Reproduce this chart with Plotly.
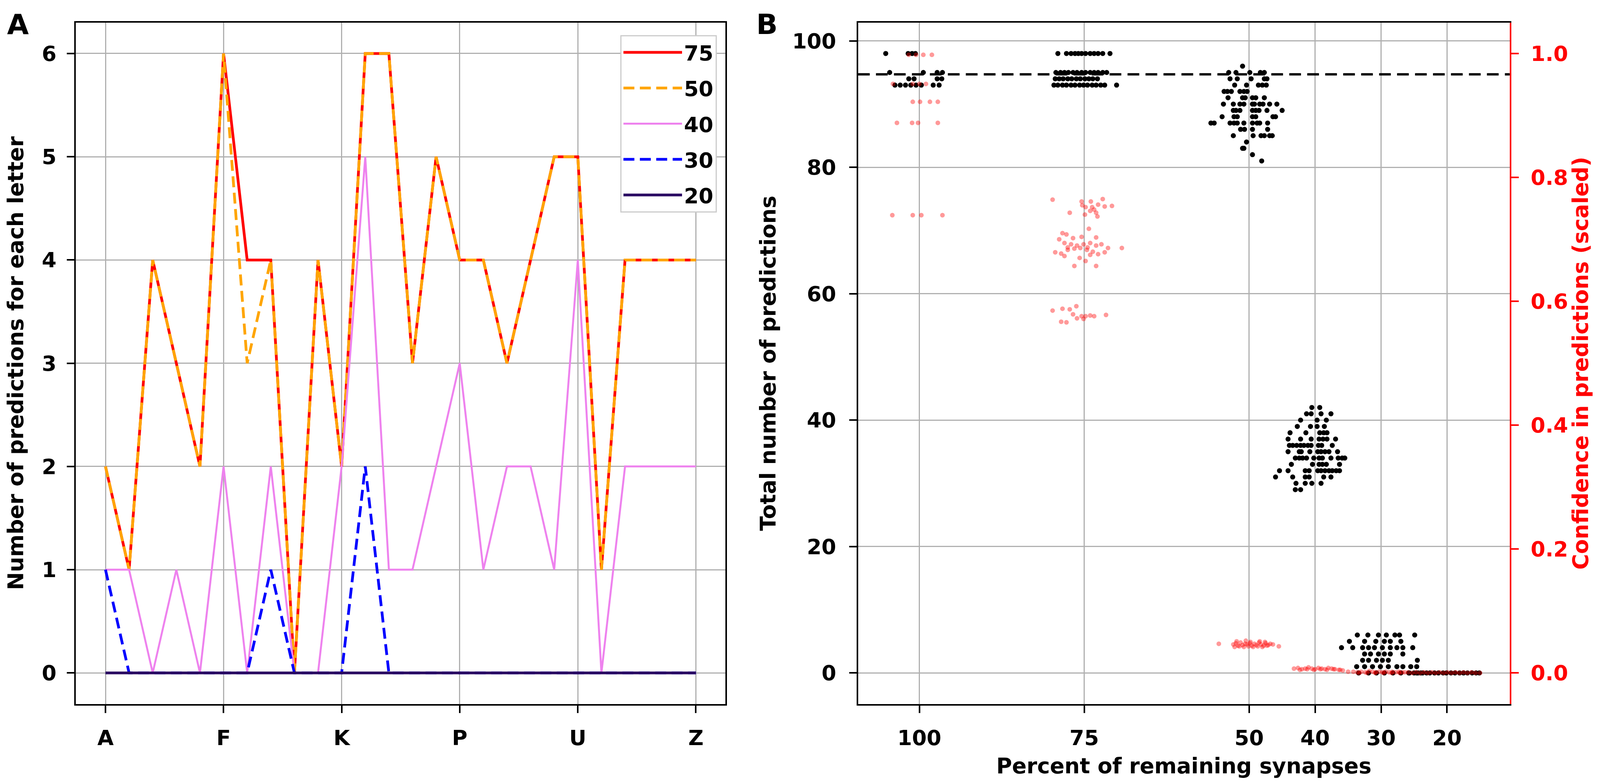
import plotly.graph_objects as go

# ---- panel A: predictions per letter, one line per % of remaining synapses
letters = list("ABCDEFGHIJKLMNOPQRSTUVWXYZ")
pred_75 = [2, 1, 4, 3, 2, 6, 4, 4, 0, 4, 2, 6, 6, 3, 5, 4, 4, 3, 4, 5, 5, 1, 4, 4, 4, 4]
pred_50 = [2, 1, 4, 3, 2, 6, 3, 4, 0, 4, 2, 6, 6, 3, 5, 4, 4, 3, 4, 5, 5, 1, 4, 4, 4, 4]
pred_40 = [1, 1, 0, 1, 0, 2, 0, 2, 0, 0, 2, 5, 1, 1, 2, 3, 1, 2, 2, 1, 4, 0, 2, 2, 2, 2]
pred_30 = [1, 0, 0, 0, 0, 0, 0, 1, 0, 0, 0, 2, 0, 0, 0, 0, 0, 0, 0, 0, 0, 0, 0, 0, 0, 0]
pred_20 = [0, 0, 0, 0, 0, 0, 0, 0, 0, 0, 0, 0, 0, 0, 0, 0, 0, 0, 0, 0, 0, 0, 0, 0, 0, 0]
letter_ticks = ["A", "F", "K", "P", "U", "Z"]

# ---- panel B: total predictions (left axis) and confidence (right axis), jittered
percent_ticks = [100, 75, 50, 40, 30, 20]
mean_total = 94.7

tot100_x = [105.1, 101.7, 101.1, 100.6, 104.5, 99.4, 97.3, 96.5, 101.6, 100.8,
            97.3, 96.6, 103.7, 102.9, 102.1, 101.3, 100.5, 99.7, 97.9, 97.0]
tot100_y = [98, 98, 98, 98, 95, 95, 95, 95, 94, 94,
            94, 94, 93, 93, 93, 93, 93, 93, 93, 93]

tot75_x = [79.0, 77.7, 77.0, 76.4, 75.9, 75.4, 74.8, 74.1, 73.5, 72.9, 72.2, 71.1,
           79.3, 78.6, 78.0, 77.4, 76.7, 76.1, 75.4, 74.8, 74.1, 73.5, 72.9, 72.2, 71.6,
           79.4, 78.8, 78.2, 77.5, 76.9, 76.2, 75.6, 74.9, 74.3, 73.7, 73.0,
           79.6, 79.0, 78.3, 77.7, 77.0, 76.4, 75.7, 75.1, 74.5, 73.8, 73.2, 72.5, 71.9, 70.1]
tot75_y = [98, 98, 98, 98, 98, 98, 98, 98, 98, 98, 98, 98,
           95, 95, 95, 95, 95, 95, 95, 95, 95, 95, 95, 95, 95,
           94, 94, 94, 94, 94, 94, 94, 94, 94, 94, 94,
           93, 93, 93, 93, 93, 93, 93, 93, 93, 93, 93, 93, 93, 93]

tot50_x = [51.0,
           53.1, 52.0, 49.9, 48.3, 47.7,
           52.9, 51.8, 49.7, 47.7, 47.3,
           52.2, 50.4, 48.6, 48.0, 47.4,
           53.8, 53.3, 52.7, 51.4, 50.8, 50.3,
           53.2, 51.0, 50.6, 49.5, 49.0, 47.7,
           53.9, 52.4, 51.4, 50.8, 49.5, 49.2, 48.4, 47.9, 46.9, 45.8,
           52.4, 52.0, 51.4, 49.5, 49.0, 48.5, 47.3, 45.0,
           54.1, 52.3, 51.8, 49.5, 49.0, 46.4, 46.0,
           55.8, 55.3, 52.9, 52.3, 51.8, 50.8, 49.5, 48.8, 48.4, 47.2,
           51.3, 50.7, 49.5, 47.2,
           52.4, 49.4, 48.2, 47.7, 46.9, 46.5,
           50.4, 51.0, 50.8, 49.5, 48.1]
tot50_y = [96,
           95, 95, 95, 95, 95,
           94, 94, 94, 94, 94,
           93, 93, 93, 93, 93,
           92, 92, 92, 92, 92, 92,
           91, 91, 91, 91, 91, 91,
           90, 90, 90, 90, 90, 90, 90, 90, 90, 90,
           89, 89, 89, 89, 89, 89, 89, 89,
           88, 88, 88, 88, 88, 88, 88,
           87, 87, 87, 87, 87, 87, 87, 87, 87, 87,
           86, 86, 86, 86,
           85, 85, 85, 85, 85, 85,
           84, 83, 83, 82, 81]

tot40_x = [40.5, 39.3,
           41.3, 40.6, 39.1, 37.6,
           42.2, 39.7, 38.3,
           42.7, 40.7, 39.7, 38.6,
           43.8, 41.4, 39.3, 38.7, 38.2,
           44.1, 42.2, 40.6, 39.4, 38.8, 38.2, 36.9,
           43.9, 43.4, 42.8, 42.2, 41.7, 41.1, 40.6, 39.5, 39.0, 37.4,
           44.1, 42.4, 42.1, 40.8, 39.6, 39.1, 38.5, 37.9, 36.6,
           43.0, 42.4, 41.9, 41.3, 40.2, 39.4, 38.9, 37.6, 36.5, 35.9, 35.5,
           43.6, 40.4, 39.4, 38.9, 38.3, 36.3,
           45.4, 44.1, 41.5, 40.9, 39.6, 39.1, 38.5, 37.9, 37.4, 36.8, 36.3,
           46.0, 43.4, 41.5, 40.9, 38.7, 37.6,
           42.9, 41.5, 40.5, 39.1,
           43.0, 42.2]
tot40_y = [42, 42,
           41, 41, 41, 41,
           40, 40, 40,
           39, 39, 39, 39,
           38, 38, 38, 38, 38,
           37, 37, 37, 37, 37, 37, 37,
           36, 36, 36, 36, 36, 36, 36, 36, 36, 36,
           35, 35, 35, 35, 35, 35, 35, 35, 35,
           34, 34, 34, 34, 34, 34, 34, 34, 34, 34, 34,
           33, 33, 33, 33, 33, 33,
           32, 32, 32, 32, 32, 32, 32, 32, 32, 32, 32,
           31, 31, 31, 31, 31, 31,
           30, 30, 30, 30,
           29, 29]

tot30_x = [33.6, 32.0, 30.4, 29.2, 27.9, 27.2, 24.9,
           34.8, 32.5, 30.8, 29.5, 28.6, 27.0,
           36.0, 34.3, 32.8, 31.9, 31.0, 29.8, 28.6, 27.6, 26.7, 25.2,
           32.5, 31.6, 30.4, 29.5, 28.6, 26.7,
           32.8, 31.9, 30.7, 29.8, 28.9, 24.5,
           33.7, 32.5, 31.3, 30.1, 28.9, 27.6, 26.7, 25.5, 24.6,
           33.4, 31.9, 30.7, 29.5, 28.2, 27.0, 25.8, 24.6, 24.0]
tot30_y = [6, 6, 6, 6, 6, 6, 6,
           5, 5, 5, 5, 5, 5,
           4, 4, 4, 4, 4, 4, 4, 4, 4, 4,
           3, 3, 3, 3, 3, 3,
           2, 2, 2, 2, 2, 2,
           1, 1, 1, 1, 1, 1, 1, 1, 1,
           0, 0, 0, 0, 0, 0, 0, 0, 0]

tot20_x = [25.7, 25.0, 24.4, 23.7, 23.1, 22.6, 21.9, 21.3, 20.6,
           20.1, 19.4, 18.8, 18.1, 17.5, 16.9, 16.2, 15.6, 15.1]
tot20_y = [0, 0, 0, 0, 0, 0, 0, 0, 0,
           0, 0, 0, 0, 0, 0, 0, 0, 0]

conf100_x = [101.6, 100.5, 99.4, 98.1, 104.0, 101.0, 100.0, 99.0, 101.0, 99.9,
             98.4, 97.2, 103.4, 101.1, 100.2, 97.2, 104.1, 101.0, 99.7, 96.5]
conf100_y = [0.998, 0.998, 0.998, 0.998, 0.951, 0.951, 0.951, 0.951, 0.922, 0.922,
             0.922, 0.922, 0.888, 0.888, 0.888, 0.888, 0.739, 0.739, 0.739, 0.739]

conf75_x = [79.8, 75.4, 74.0, 72.2, 72.9, 71.9, 70.8, 75.3, 74.8, 73.8, 73.5, 73.2,
            77.2, 74.9, 73.0, 74.1,
            78.3, 77.7, 74.3, 73.2, 78.8, 76.7, 75.4, 78.0, 77.0, 76.1, 75.1, 74.1,
            73.2, 72.4, 71.4, 69.3, 79.4, 78.5, 77.5, 76.5, 75.6, 74.6, 73.7, 72.9,
            71.9, 78.0, 75.7, 74.8, 74.1, 76.5, 73.2, 77.5, 74.5,
            79.8, 78.3, 77.2, 76.2, 76.7, 76.1, 75.4, 74.8, 74.1, 73.5, 71.7,
            78.5, 77.7, 75.1]
conf75_y = [0.764, 0.761, 0.761, 0.765, 0.756, 0.753, 0.754, 0.755, 0.752, 0.752, 0.748, 0.743,
            0.743, 0.740, 0.737, 0.746,
            0.710, 0.708, 0.717, 0.703, 0.700, 0.702, 0.704, 0.694, 0.692, 0.690, 0.692, 0.694,
            0.690, 0.692, 0.686, 0.686, 0.679, 0.677, 0.683, 0.685, 0.686, 0.683, 0.680, 0.676,
            0.679, 0.673, 0.670, 0.665, 0.675, 0.657, 0.657, 0.687, 0.687,
            0.585, 0.588, 0.587, 0.592, 0.579, 0.5725, 0.576, 0.576, 0.577, 0.576, 0.578,
            0.567, 0.566, 0.5715]

conf50_x = [54.6, 52.4, 52.0, 51.7, 51.3, 51.0, 50.6, 50.3, 49.9, 49.6, 49.2, 48.9,
            48.5, 48.2, 47.8, 47.5, 47.1, 46.8, 46.4, 45.5,
            52.2, 51.5, 50.8, 50.1, 49.4, 48.7, 48.0, 47.3,
            51.9, 50.5, 49.8, 48.4, 47.6]
conf50_y = [0.047, 0.046, 0.048, 0.044, 0.049, 0.045, 0.047, 0.046, 0.048, 0.044, 0.047, 0.045,
            0.049, 0.046, 0.044, 0.048, 0.045, 0.047, 0.046, 0.043,
            0.042, 0.043, 0.042, 0.043, 0.042, 0.043, 0.042, 0.044,
            0.051, 0.052, 0.050, 0.051, 0.050]

conf40_x = [43.2, 42.6, 42.0, 41.5, 41.0, 40.5, 40.0, 39.5, 39.0, 38.5, 38.0, 37.5,
            37.0, 36.4, 35.8, 35.0,
            42.3, 41.2, 40.2, 39.2, 38.2, 37.2, 36.2]
conf40_y = [0.007, 0.008, 0.006, 0.007, 0.009, 0.007, 0.006, 0.008, 0.007, 0.006, 0.008, 0.007,
            0.006, 0.005, 0.004, 0.002,
            0.005, 0.006, 0.005, 0.006, 0.005, 0.006, 0.005]

conf30_x = [34.2, 33.6, 33.0, 32.4, 31.8, 31.3, 30.8, 30.3, 29.8, 29.3, 28.8, 28.3,
            27.8, 27.3, 26.8, 26.4,
            33.3, 32.1, 30.9, 29.6, 28.4, 27.2]
conf30_y = [0.002, 0.001, 0.002, 0.001, 0.003, 0.002, 0.001, 0.002, 0.001, 0.002, 0.001, 0.002,
            0.001, 0.002, 0.001, 0.001,
            0.000, 0.000, 0.000, 0.000, 0.000, 0.000]

conf20_x = [25.9, 25.3, 24.7, 24.1, 23.5, 22.9, 22.3, 21.7, 21.1, 20.5, 19.9, 19.3,
            18.7, 18.1, 17.5, 16.9, 16.3, 15.7, 15.0]
conf20_y = [0.001, 0.000, 0.001, 0.000, 0.001, 0.000, 0.001, 0.000, 0.001, 0.000, 0.001, 0.000,
            0.001, 0.000, 0.001, 0.000, 0.001, 0.000, 0.000]

FONT = "DejaVu Sans"
TICK = 54
TITLE = 55
RED = "#ff0000"
GRID = "#b0b0b0"

fig = go.Figure()

series = [
    ("75", pred_75, RED, "solid", 7),
    ("50", pred_50, "#ffa500", "28px,14px", 7),
    ("40", pred_40, "#ee82ee", "solid", 5),
    ("30", pred_30, "#0000ff", "28px,14px", 7),
    ("20", pred_20, "#2a0a62", "solid", 7),
]
for name, vals, col, dash, w in series:
    fig.add_trace(go.Scatter(x=letters, y=vals, mode="lines", name=name,
                             legendgroup=name,
                             line=dict(color=col, dash=dash, width=w),
                             xaxis="x", yaxis="y"))

tot_x = tot100_x + tot75_x + tot50_x + tot40_x + tot30_x + tot20_x
tot_y = tot100_y + tot75_y + tot50_y + tot40_y + tot30_y + tot20_y
conf_x = conf100_x + conf75_x + conf50_x + conf40_x + conf30_x + conf20_x
conf_y = conf100_y + conf75_y + conf50_y + conf40_y + conf30_y + conf20_y

fig.add_trace(go.Scatter(x=tot_x, y=tot_y, mode="markers", showlegend=False,
                         marker=dict(color="black", size=13, line=dict(width=0)),
                         xaxis="x2", yaxis="y2"))
fig.add_trace(go.Scatter(x=conf_x, y=conf_y, mode="markers", showlegend=False,
                         marker=dict(color=RED, size=12, opacity=0.4, line=dict(width=0)),
                         xaxis="x2", yaxis="y3"))

fig.add_shape(type="line", xref="x2 domain", yref="y2", x0=0, x1=1,
              y0=mean_total, y1=mean_total,
              line=dict(color="black", width=6, dash="30px,16px"))

axis_common = dict(showline=True, linecolor="black", linewidth=4,
                   ticks="outside", ticklen=19, tickwidth=4, tickcolor="black",
                   showgrid=True, gridcolor=GRID, gridwidth=3, zeroline=False,
                   tickfont=dict(family=FONT, size=TICK, color="black", weight="bold"))

y_dom = [0.0978, 0.975]

fig.update_layout(
    autosize=True,
    margin=dict(l=0, r=0, t=0, b=0),
    paper_bgcolor="white", plot_bgcolor="white",
    font=dict(family=FONT, size=TICK, color="black", weight="bold"),
    xaxis=dict(axis_common, domain=[0.0457, 0.4532], anchor="y",
               type="category", categoryorder="array", categoryarray=letters,
               range=[-1.25, 26.25], tickvals=letter_ticks,
               mirror=True, ticklabelstandoff=18, automargin=False),
    yaxis=dict(axis_common, domain=y_dom, anchor="x",
               range=[-0.3, 6.3], tickvals=[0, 1, 2, 3, 4, 5, 6],
               mirror=True, ticklabelstandoff=16, automargin=False,
               title=dict(text="Number of predictions for each letter",
                          font=dict(family=FONT, size=TITLE, color="black", weight="bold"),
                          standoff=32)),
    xaxis2=dict(axis_common, domain=[0.5364, 0.9453], anchor="y2",
                range=[109.3, 10.5], tickvals=percent_ticks,
                mirror=True, ticklabelstandoff=18, automargin=False,
                title=dict(text="Percent of remaining synapses",
                           font=dict(family=FONT, size=TITLE, color="black", weight="bold"),
                           standoff=22)),
    yaxis2=dict(axis_common, domain=y_dom, anchor="x2",
                range=[-4.9, 102.9], tickvals=[0, 20, 40, 60, 80, 100],
                ticklabelstandoff=22, automargin=False,
                title=dict(text="Total number of predictions",
                           font=dict(family=FONT, size=TITLE, color="black", weight="bold"),
                           standoff=26)),
    yaxis3=dict(overlaying="y2", side="right", anchor="x2",
                range=[-0.05, 1.05], tickvals=[0, 0.2, 0.4, 0.6, 0.8, 1.0],
                tickformat=".1f", showgrid=False, zeroline=False,
                showline=True, linecolor=RED, linewidth=4,
                ticks="outside", ticklen=19, tickwidth=4, tickcolor=RED,
                ticklabelstandoff=20, automargin=False,
                tickfont=dict(family=FONT, size=TICK, color=RED, weight="bold"),
                title=dict(text="Confidence in predictions (scaled)",
                           font=dict(family=FONT, size=TITLE, color=RED, weight="bold"),
                           standoff=12)),
    legend=dict(x=0.4478, y=0.959, xanchor="right", yanchor="top",
                bgcolor="white", bordercolor="#cccccc", borderwidth=3,
                tracegroupgap=18, itemwidth=150,
                font=dict(family=FONT, size=TICK, color="black", weight="bold")),
    annotations=[
        dict(text="A", xref="paper", yref="paper", x=0.002, y=0.995,
             xanchor="left", yanchor="top", showarrow=False,
             font=dict(family=FONT, size=72, color="black", weight="bold")),
        dict(text="B", xref="paper", yref="paper", x=0.472, y=0.995,
             xanchor="left", yanchor="top", showarrow=False,
             font=dict(family=FONT, size=72, color="black", weight="bold")),
    ],
)

fig.write_html("out.html")
